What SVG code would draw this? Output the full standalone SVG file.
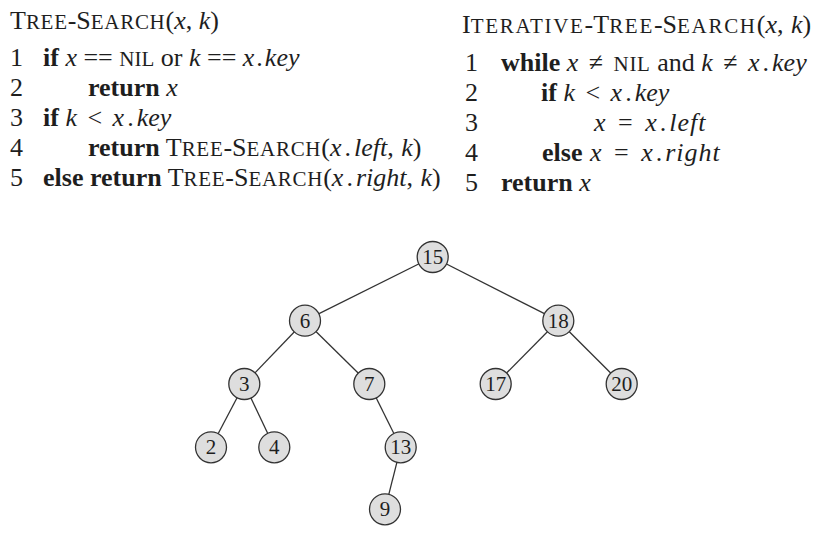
<svg xmlns="http://www.w3.org/2000/svg" width="833" height="540" viewBox="0 0 833 540">
<style>
.t{font-family:"Liberation Serif","Times New Roman",serif;font-size:26px;fill:#1e1e1e}
.b{font-weight:bold}
.i{font-style:italic}
.sc{font-size:21px}
.scl{font-size:21px;letter-spacing:0.7px}
.scr{font-size:21px;letter-spacing:1.7px}
.edge{stroke:#333;stroke-width:1.3;fill:none}
.node circle{fill:#dedede;stroke:#333;stroke-width:1.3}
.node text{font-family:"Liberation Serif","Times New Roman",serif;font-size:21px;fill:#1e1e1e;text-anchor:middle}
</style>
<rect width="833" height="540" fill="#fff"/>
<g id="code-left" class="t">
<text x="10" y="29">T<tspan class="scl">REE</tspan>-S<tspan class="scl">EARCH</tspan>(<tspan class="i">x</tspan>, <tspan class="i">k</tspan>)</text>
<text x="10" y="66">1</text>
<text x="10" y="96">2</text>
<text x="10" y="126">3</text>
<text x="10" y="156">4</text>
<text x="10" y="186">5</text>
<text x="43" y="66"><tspan class="b">if</tspan> <tspan class="i">x</tspan> == <tspan class="sc">NIL</tspan> or <tspan class="i">k</tspan> == <tspan class="i">x</tspan><tspan dx="2">.</tspan><tspan class="i" dx="2">key</tspan></text>
<text x="88" y="96"><tspan class="b">return</tspan> <tspan class="i">x</tspan></text>
<text x="43" y="126"><tspan class="b">if</tspan> <tspan class="i">k</tspan> <tspan dx="4">&lt;</tspan> <tspan class="i" dx="4">x</tspan><tspan dx="3">.</tspan><tspan class="i" dx="3">key</tspan></text>
<text x="88" y="156"><tspan class="b">return</tspan> T<tspan class="scl">REE</tspan>-S<tspan class="scl">EARCH</tspan>(<tspan class="i">x</tspan><tspan dx="3">.</tspan><tspan class="i" dx="3">left</tspan>, <tspan class="i" dx="1">k</tspan>)</text>
<text x="43" y="186"><tspan class="b">else return</tspan> T<tspan class="scl">REE</tspan>-S<tspan class="scl">EARCH</tspan>(<tspan class="i">x</tspan><tspan dx="3">.</tspan><tspan class="i" dx="3">right</tspan>, <tspan class="i" dx="1">k</tspan>)</text>
</g>
<g id="code-right" class="t">
<text x="462" y="33">I<tspan class="scr">TERATIVE</tspan>-T<tspan class="scr">REE</tspan>-S<tspan class="scr">EARCH</tspan>(<tspan class="i">x</tspan>, <tspan class="i" dx="1">k</tspan>)</text>
<text x="465" y="71">1</text>
<text x="465" y="101">2</text>
<text x="465" y="131">3</text>
<text x="465" y="161">4</text>
<text x="465" y="191">5</text>
<text x="501" y="71"><tspan class="b">while</tspan> <tspan class="i">x</tspan> <tspan dx="4">≠</tspan> <tspan class="scl" dx="4">NIL</tspan> and <tspan class="i">k</tspan> <tspan dx="4">≠</tspan> <tspan class="i" dx="4">x</tspan><tspan dx="3">.</tspan><tspan class="i" dx="3">key</tspan></text>
<text x="541" y="101"><tspan class="b">if</tspan> <tspan class="i">k</tspan> <tspan dx="4">&lt;</tspan> <tspan class="i" dx="4">x</tspan><tspan dx="3">.</tspan><tspan class="i" dx="3">key</tspan></text>
<text x="594" y="131"><tspan class="i">x</tspan> <tspan dx="6">=</tspan> <tspan class="i" dx="6">x</tspan><tspan dx="3">.</tspan><tspan class="i" dx="3" letter-spacing="1">left</tspan></text>
<text x="542" y="161"><tspan class="b">else</tspan> <tspan class="i" dx="1">x</tspan> <tspan dx="6">=</tspan> <tspan class="i" dx="6">x</tspan><tspan dx="3">.</tspan><tspan class="i" dx="3" letter-spacing="1">right</tspan></text>
<text x="501" y="191"><tspan class="b">return</tspan> <tspan class="i">x</tspan></text>
</g>
<g id="connectors">
<line class="edge" x1="432.7" y1="257" x2="305" y2="320.7"/>
<line class="edge" x1="432.7" y1="257" x2="558.3" y2="320.7"/>
<line class="edge" x1="305" y1="320.7" x2="244.3" y2="384"/>
<line class="edge" x1="305" y1="320.7" x2="369.3" y2="384"/>
<line class="edge" x1="558.3" y1="320.7" x2="495.7" y2="384"/>
<line class="edge" x1="558.3" y1="320.7" x2="621.7" y2="384"/>
<line class="edge" x1="244.3" y1="384" x2="211" y2="447.3"/>
<line class="edge" x1="244.3" y1="384" x2="274.3" y2="447.3"/>
<line class="edge" x1="369.3" y1="384" x2="400.7" y2="447.3"/>
<line class="edge" x1="400.7" y1="447.3" x2="385" y2="509.3"/>
</g>
<g id="n15" class="node"><circle cx="432.7" cy="257" r="15.5"/><text x="432.7" y="264">15</text></g>
<g id="n6" class="node"><circle cx="305" cy="320.7" r="15.5"/><text x="305" y="327.7">6</text></g>
<g id="n18" class="node"><circle cx="558.3" cy="320.7" r="15.5"/><text x="558.3" y="327.7">18</text></g>
<g id="n3" class="node"><circle cx="244.3" cy="384" r="15.5"/><text x="244.3" y="391">3</text></g>
<g id="n7" class="node"><circle cx="369.3" cy="384" r="15.5"/><text x="369.3" y="391">7</text></g>
<g id="n17" class="node"><circle cx="495.7" cy="384" r="15.5"/><text x="495.7" y="391">17</text></g>
<g id="n20" class="node"><circle cx="621.7" cy="384" r="15.5"/><text x="621.7" y="391">20</text></g>
<g id="n2" class="node"><circle cx="211" cy="447.3" r="15.5"/><text x="211" y="454.3">2</text></g>
<g id="n4" class="node"><circle cx="274.3" cy="447.3" r="15.5"/><text x="274.3" y="454.3">4</text></g>
<g id="n13" class="node"><circle cx="400.7" cy="447.3" r="15.5"/><text x="400.7" y="454.3">13</text></g>
<g id="n9" class="node"><circle cx="385" cy="509.3" r="15.5"/><text x="385" y="516.3">9</text></g>
</svg>
